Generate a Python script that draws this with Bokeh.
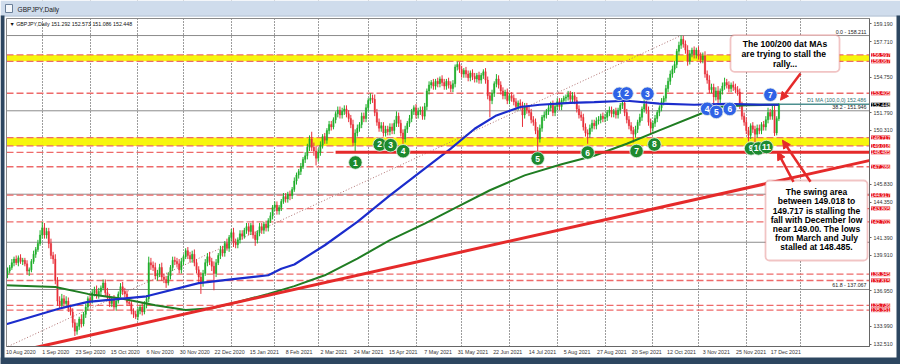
from bokeh.plotting import figure
from bokeh.models import (Range1d, FixedTicker, Label, BoxAnnotation, Arrow,
                          NormalHead, ColumnDataSource, LinearAxis)
from bokeh.core.properties import value
from bokeh.embed import file_html
from bokeh.resources import INLINE

FONT = "Liberation Sans"

# ------------------------------------------------------------------ data
first_open = 138.3
closes = [
    138.6, 138.9, 139.3, 139.6, 139.3, 139.7, 139.4, 139.5, 139.2, 138.6, 138.7, 139.4, 140.0, 140.4, 140.9, 141.6,
    142.2, 141.6, 141.9, 140.9, 139.9, 139.6, 137.8, 136.1, 135.8, 136.3, 135.9, 136.1, 135.5, 135.2, 134.3, 133.6,
    134.0, 134.6, 134.2, 135.0, 135.6, 136.3, 136.1, 136.8, 137.0, 136.6, 136.9, 137.2, 137.6, 136.8, 136.4, 135.9,
    136.2, 135.6, 136.1, 136.7, 137.3, 136.9, 136.7, 136.0, 135.9, 135.3, 135.0, 134.8, 135.3, 135.6, 135.2, 135.8,
    136.3, 139.3, 139.1, 138.9, 138.2, 138.4, 138.9, 138.1, 137.9, 137.6, 138.2, 138.9, 139.5, 139.4, 139.2, 138.7,
    139.4, 139.8, 140.3, 139.9, 139.6, 140.0, 139.3, 138.7, 138.1, 137.6, 138.4, 139.3, 139.8, 139.4, 139.0, 138.4,
    139.3, 139.9, 140.4, 140.1, 140.9, 140.5, 141.4, 141.8, 141.0, 140.8, 141.2, 141.7, 141.5, 142.0, 142.3, 141.9,
    142.4, 141.6, 141.2, 141.8, 142.3, 142.0, 142.5, 142.2, 142.8, 143.2, 143.9, 144.1, 143.6, 143.9, 144.4, 144.8,
    144.6, 145.0, 144.9, 145.4, 146.1, 146.6, 146.9, 147.3, 147.9, 148.2, 148.9, 149.6, 148.9, 148.6, 148.0, 148.5,
    149.1, 149.8, 149.5, 150.3, 150.8, 150.6, 151.2, 151.7, 152.0, 151.6, 151.9, 152.1, 151.7, 151.3, 150.8, 149.3,
    150.1, 150.5, 150.8, 151.5, 151.3, 152.2, 152.8, 153.0, 152.9, 151.8, 151.0, 150.5, 150.7, 150.1, 150.4, 150.2,
    150.6, 150.3, 150.9, 151.5, 150.9, 150.1, 149.6, 150.4, 150.9, 151.3, 151.9, 152.2, 151.6, 151.9, 152.0, 151.5,
    152.3, 153.6, 154.1, 154.3, 154.0, 154.4, 154.2, 154.6, 154.3, 154.0, 154.4, 154.1, 153.8, 154.2, 155.6, 155.8,
    155.4, 155.0, 155.3, 155.0, 154.7, 155.1, 154.8, 154.6, 154.9, 154.5, 154.9, 155.2, 154.5, 153.2, 152.8, 153.4,
    154.2, 154.6, 154.1, 153.6, 153.2, 153.5, 152.8, 153.2, 153.0, 152.7, 152.3, 152.6, 152.4, 151.6, 152.3, 152.0,
    151.8, 151.2, 151.0, 150.3, 149.6, 150.5, 151.4, 151.6, 151.9, 152.2, 152.4, 151.8, 152.3, 152.7, 152.3, 152.8,
    153.0, 153.1, 153.3, 152.9, 153.2, 152.8, 152.1, 151.6, 151.4, 150.6, 150.1, 150.0, 150.5, 150.9, 150.7, 151.1,
    151.2, 151.5, 151.3, 151.4, 151.8, 152.0, 151.7, 151.9, 151.6, 152.0, 152.4, 152.6, 151.8, 151.2, 150.7, 150.3,
    150.0, 150.4, 151.0, 151.4, 152.1, 152.5, 152.0, 151.0, 150.5, 150.9, 151.3, 151.8, 152.2, 152.7, 153.0, 153.8,
    154.4, 155.0, 155.4, 155.8, 156.9, 157.4, 157.9, 157.5, 157.0, 156.1, 156.7, 157.0, 156.6, 157.0, 156.5, 156.2,
    156.5, 155.0, 154.5, 153.7, 153.9, 153.1, 153.6, 152.9, 153.6, 154.0, 154.3, 154.1, 153.8, 154.1, 153.9, 153.7,
    153.5, 152.4, 151.5, 151.0, 150.3, 149.9, 150.7, 150.4, 150.0, 150.5, 150.3, 150.8, 150.6, 151.2, 151.8, 151.5,
    152.0, 150.1, 151.292, 152.448,
]
wick_up = [
    0.3, 0.2, 0.3, 0.2, 0.3, 0.2, 0.3, 0.2, 0.2, 0.3, 0.2, 0.2, 0.3, 0.2, 0.3, 0.4,
    0.5, 0.4, 0.3, 0.3, 0.4, 0.3, 0.4, 0.3, 0.4, 0.4, 0.3, 0.4, 0.3, 0.3, 0.3, 0.3,
    0.3, 0.2, 0.4, 0.2, 0.3, 0.2, 0.4, 0.3, 0.3, 0.4, 0.3, 0.2, 0.3, 0.3, 0.4, 0.3,
    0.3, 0.4, 0.3, 0.2, 0.3, 0.4, 0.3, 0.3, 0.3, 0.3, 0.2, 0.3, 0.3, 0.2, 0.4, 0.3,
    0.3, 0.5, 0.4, 0.3, 0.4, 0.3, 0.3, 0.4, 0.3, 0.3, 0.3, 0.2, 0.3, 0.3, 0.3, 0.4,
    0.3, 0.2, 0.2, 0.3, 0.3, 0.3, 0.4, 0.3, 0.3, 0.4, 0.3, 0.3, 0.3, 0.4, 0.3, 0.4,
    0.3, 0.2, 0.3, 0.3, 0.2, 0.4, 0.2, 0.3, 0.4, 0.3, 0.2, 0.3, 0.3, 0.2, 0.3, 0.3,
    0.2, 0.4, 0.3, 0.2, 0.3, 0.3, 0.2, 0.3, 0.2, 0.3, 0.2, 0.3, 0.3, 0.2, 0.2, 0.3,
    0.3, 0.2, 0.3, 0.2, 0.3, 0.2, 0.2, 0.3, 0.2, 0.3, 0.3, 0.3, 0.6, 0.4, 0.4, 0.3,
    0.3, 0.2, 0.3, 0.2, 0.3, 0.3, 0.2, 0.2, 0.3, 0.3, 0.3, 0.3, 0.3, 0.3, 0.3, 0.4,
    0.3, 0.3, 0.2, 0.3, 0.3, 0.3, 0.2, 0.4, 0.3, 0.4, 0.3, 0.3, 0.3, 0.3, 0.3, 0.3,
    0.3, 0.3, 0.3, 0.4, 0.3, 0.3, 0.3, 0.3, 0.2, 0.3, 0.2, 0.2, 0.3, 0.3, 0.3, 0.3,
    0.3, 0.2, 0.3, 0.2, 0.3, 0.2, 0.3, 0.2, 0.3, 0.3, 0.2, 0.3, 0.3, 0.3, 0.2, 0.25,
    0.2, 0.3, 0.2, 0.3, 0.3, 0.2, 0.3, 0.3, 0.2, 0.3, 0.2, 0.2, 0.3, 0.3, 0.3, 0.3,
    0.2, 0.4, 0.3, 0.3, 0.3, 0.2, 0.3, 0.2, 0.3, 0.3, 0.3, 0.2, 0.3, 0.3, 0.3, 0.3,
    0.3, 0.3, 0.3, 0.3, 0.3, 0.3, 0.2, 0.3, 0.2, 0.3, 0.3, 0.4, 0.2, 0.3, 0.3, 0.2,
    0.2, 0.2, 0.3, 0.3, 0.3, 0.3, 0.3, 0.3, 0.3, 0.3, 0.3, 0.3, 0.3, 0.3, 0.3, 0.3,
    0.3, 0.2, 0.3, 0.3, 0.2, 0.3, 0.3, 0.2, 0.3, 0.2, 0.2, 0.4, 0.3, 0.3, 0.3, 0.3,
    0.3, 0.3, 0.2, 0.3, 0.2, 0.5, 0.3, 0.3, 0.3, 0.2, 0.3, 0.2, 0.2, 0.3, 0.2, 0.3,
    0.3, 0.3, 0.3, 0.3, 0.2, 0.3, 0.311, 0.3, 0.3, 0.4, 0.3, 0.2, 0.3, 0.2, 0.3, 0.3,
    0.3, 0.4, 0.3, 0.4, 0.3, 0.3, 0.3, 0.4, 0.2, 0.3, 0.4, 0.3, 0.3, 0.2, 0.3, 0.3,
    0.3, 0.3, 0.3, 0.3, 0.4, 0.3, 0.2, 0.3, 0.3, 0.3, 0.3, 0.2, 0.3, 0.3, 0.4, 0.3,
    0.5, 0.4, 0.2, 0.125,
]
wick_dn = [
    0.3, 0.2, 0.2, 0.3, 0.2, 0.3, 0.2, 0.3, 0.2, 0.3, 0.4, 0.2, 0.2, 0.3, 0.2, 0.2,
    0.3, 0.3, 0.3, 0.4, 0.3, 0.4, 0.3, 0.4, 0.3, 0.3, 0.4, 0.3, 0.3, 0.3, 0.4, 0.4,
    0.3, 0.3, 0.3, 0.2, 0.3, 0.3, 0.3, 0.2, 0.3, 0.3, 0.3, 0.3, 0.2, 0.3, 0.3, 0.3,
    0.3, 0.3, 0.3, 0.2, 0.3, 0.3, 0.3, 0.3, 0.2, 0.3, 0.3, 0.2, 0.3, 0.3, 0.3, 0.2,
    0.3, 0.3, 0.4, 0.3, 0.3, 0.4, 0.3, 0.3, 0.3, 0.4, 0.2, 0.3, 0.3, 0.3, 0.3, 0.3,
    0.3, 0.3, 0.2, 0.3, 0.3, 0.3, 0.3, 0.3, 0.4, 0.9, 0.3, 0.2, 0.3, 0.3, 0.4, 1.4,
    0.3, 0.2, 0.3, 0.3, 0.3, 0.2, 0.3, 0.3, 0.4, 0.3, 0.3, 0.3, 0.3, 0.2, 0.3, 0.3,
    0.3, 0.3, 0.5, 0.3, 0.3, 0.3, 0.3, 0.3, 0.3, 0.2, 0.3, 0.3, 0.3, 0.3, 0.3, 0.2,
    0.3, 0.3, 0.4, 0.3, 0.2, 0.3, 0.3, 0.3, 0.2, 0.3, 0.3, 0.3, 0.3, 0.4, 0.6, 0.3,
    0.3, 0.3, 0.3, 0.3, 0.3, 0.3, 0.2, 0.3, 0.3, 0.3, 0.3, 0.3, 0.3, 0.3, 0.3, 0.3,
    0.815, 0.3, 0.3, 0.3, 0.3, 0.3, 0.3, 0.3, 0.3, 0.3, 0.3, 0.3, 0.3, 0.3, 0.3, 0.3,
    0.3, 0.3, 0.3, 0.3, 0.3, 0.3, 0.4, 0.3, 0.3, 0.3, 0.3, 0.3, 0.3, 0.3, 0.3, 0.3,
    0.3, 0.3, 0.3, 0.3, 0.3, 0.3, 0.3, 0.3, 0.3, 0.3, 0.3, 0.3, 0.3, 0.3, 0.3, 0.3,
    0.3, 0.3, 0.3, 0.3, 0.3, 0.3, 0.3, 0.3, 0.3, 0.3, 0.3, 0.3, 0.3, 0.3, 1.4, 0.3,
    0.3, 0.3, 0.3, 0.3, 0.3, 0.3, 0.3, 0.3, 0.3, 0.3, 0.3, 0.3, 0.3, 1.0, 0.3, 0.3,
    0.3, 0.3, 0.3, 0.3, 1.115, 0.3, 0.3, 0.3, 0.3, 0.3, 0.3, 0.3, 0.3, 0.3, 0.3, 0.3,
    0.3, 0.3, 0.3, 0.3, 0.3, 0.3, 0.3, 0.3, 0.3, 0.3, 0.3, 0.8, 0.3, 0.3, 0.3, 0.3,
    0.3, 0.3, 0.3, 0.3, 0.3, 0.3, 0.3, 0.3, 0.3, 0.3, 0.3, 0.3, 0.3, 0.3, 0.3, 0.3,
    0.7, 0.3, 0.3, 0.3, 0.3, 0.3, 0.3, 0.3, 0.5, 0.3, 0.3, 0.3, 0.3, 0.3, 0.3, 0.3,
    0.3, 0.3, 0.3, 0.3, 0.3, 0.3, 0.3, 0.3, 0.3, 0.4, 0.3, 0.3, 0.3, 0.3, 0.3, 0.3,
    0.3, 0.3, 0.3, 0.3, 0.3, 0.7, 0.3, 0.4, 0.3, 0.3, 0.3, 0.3, 0.3, 0.3, 0.3, 0.3,
    0.3, 0.3, 0.3, 0.3, 0.3, 0.5, 0.3, 0.3, 0.9, 0.3, 0.3, 0.3, 0.3, 0.3, 0.3, 0.3,
    0.3, 0.25, 0.2, 0.206,
]

date_label_bars = [0, 16, 32, 48, 64, 80, 96, 112, 128, 144, 160, 176, 192, 208,
                   224, 240, 256, 272, 288, 304, 320, 336, 352]
date_labels = ["10 Aug 2020", "1 Sep 2020", "23 Sep 2020", "15 Oct 2020", "6 Nov 2020",
               "30 Nov 2020", "22 Dec 2020", "15 Jan 2021", "8 Feb 2021", "2 Mar 2021",
               "24 Mar 2021", "15 Apr 2021", "7 May 2021", "31 May 2021", "22 Jun 2021",
               "14 Jul 2021", "5 Aug 2021", "27 Aug 2021", "20 Sep 2021", "12 Oct 2021",
               "3 Nov 2021", "25 Nov 2021", "17 Dec 2021"]
month_start_bars = [16, 38, 60, 81, 103, 123, 143, 166, 188, 209, 231, 253, 275, 297,
                    318, 340, 365]

y_tick_values = [159.19, 157.71, 154.75, 151.79, 150.31, 145.83, 144.35, 141.39,
                 139.91, 136.95, 133.99, 132.51]
y_tick_labels = ["159.190", "157.710", "154.750", "151.790", "150.310", "145.830",
                 "144.350", "141.390", "139.910", "136.950", "133.990", "132.510"]

ma100_bars = [-1, 24, 37, 64, 88, 106, 120, 126, 132, 146, 161, 176, 192, 204, 215,
              225, 236, 245, 259, 270, 285, 300, 316, 331, 346, 355]
ma100_vals = [134.15, 135.48, 136.03, 136.5, 137.6, 137.97, 138.25, 138.8, 139.15,
              140.75, 142.69, 144.9, 147.13, 148.8, 150.45, 151.56, 152.26, 152.45,
              152.6, 152.67, 152.78, 152.55, 152.45, 152.52, 152.45, 152.45]
ma200_bars = [-1, 22, 37, 53, 68, 82, 94, 106, 120, 132, 146, 161, 176, 192, 207,
              222, 238, 255, 270, 285, 300, 319, 327, 340, 355]
ma200_vals = [137.42, 137.28, 136.7, 136.3, 135.75, 135.35, 135.5, 136.03, 136.7,
              137.35, 138.25, 139.64, 141.17, 142.55, 143.94, 145.33, 146.57, 147.5,
              148.2, 149.2, 150.32, 151.7, 152.26, 152.4, 152.45]

red_levels = [156.597, 156.067, 153.405, 149.717, 149.018, 148.485, 147.286, 144.917,
              143.805, 142.702, 138.345, 137.815, 135.736, 135.351]
band_bottoms = [156.067, 149.018]
band_tops = [156.597, 149.717]
fib_levels = [158.211, 151.946, 145.0, 141.0, 137.067]
fib_label_levels = [158.211, 151.946, 137.067]
fib_label_texts = ["0.0 - 158.211", "38.2 - 151.946", "61.8 - 137.067"]
ma_level = 152.486
ma_level_text = "D1 MA (100,0,0) 152.486"
ma_level_bars = [326, 397]
support_level = 148.485
support_bars = [151, 397]
trend_bars = [0, 397]
trend_prices = [131.72, 147.82]
retrace_bars = [-1, 310]
retrace_prices = [132.22, 158.211]
last_price = 152.448
ohlc_text = "\u25BC GBPJPY,Daily  151.292 152.573 151.086 152.448"
window_title = "GBPJPY,Daily"

green_circle_bars = [160.1, 171.3, 176.3, 182.1, 244.0, 267.0, 289.5, 297.7, 342.2, 345.6, 349.3]
green_circle_prices = [147.64, 149.14, 149.08, 148.58, 147.97, 148.47, 148.6, 149.14, 148.81, 148.81, 148.93]
green_circle_text = ["1", "2", "3", "4", "5", "6", "7", "8", "9", "10", "11"]
blue_circle_bars = [281.6, 284.9, 294.5, 322.0, 326.2, 332.4, 351.1]
blue_circle_prices = [153.36, 153.39, 153.37, 152.11, 151.85, 152.10, 153.28]
blue_circle_text = ["1", "2", "3", "4", "5", "6", "7"]

note1_lines = ["The 100/200 dat MAs", "are  trying to stall the", "rally..."]
note2_lines = ["The swing area", "between 149.018 to", "149.717 is stalling the",
               "fall with December low", "near 149.00. The lows",
               "from March and July", "stalled at 148.485."]

# ------------------------------------------------------------------ layout
W, H = 900, 364
FL, FR, FT, FB = 6, 869, 18, 346          # chart area in canvas pixels
X0, X1 = -0.46, 396.7                      # chart area in bars
Y0, Y1 = 132.32, 159.63                    # chart area in price


def bx(px):
    return X0 + (px - FL) * (X1 - X0) / (FR - FL)


def py(pyy):
    return Y1 - (pyy - FT) * (Y1 - Y0) / (FB - FT)


UP, DOWN = "#1fae2a", "#e8303a"
RED = "#e52a2a"

opens = [first_open] + closes[:-1]
highs = [max(o, c) + w for o, c, w in zip(opens, closes, wick_up)]
lows = [min(o, c) - w for o, c, w in zip(opens, closes, wick_dn)]
bars = list(range(len(closes)))

p = figure(width=W, height=H, x_range=Range1d(bx(0), bx(W)), y_range=Range1d(py(H), py(0)),
           x_axis_location=None, y_axis_location=None, toolbar_location=None,
           output_backend="svg", min_border=0)
p.background_fill_color = "white"
p.border_fill_color = "white"
p.outline_line_color = None

# grid (vertical dotted month separators)
p.ygrid.grid_line_color = None
p.xgrid.ticker = FixedTicker(ticks=month_start_bars)
p.xgrid.grid_line_color = "#3a3a3a"
p.xgrid.grid_line_dash = "1 2"
p.xgrid.grid_line_alpha = 1.0

# yellow swing bands
p.quad(left=X0, right=X1, bottom=band_bottoms, top=band_tops,
       fill_color="#f5f500", fill_alpha=0.95, line_color=None)
# grey fib levels
p.segment(x0=X0, x1=X1, y0=fib_levels, y1=fib_levels, line_color="#8c8c8c", line_width=1)
# dashed red levels
p.segment(x0=X0, x1=X1, y0=red_levels, y1=red_levels, line_color="#ee6a6a",
          line_width=1.3, line_dash="7 3")
# MA level line
p.line(ma_level_bars, [ma_level, ma_level], line_color="#4d8f8f", line_width=1.6)
# dotted retracement diagonal
p.line(retrace_bars, retrace_prices, line_color="#b07272", line_width=1, line_dash="1 2")

# candles
src = ColumnDataSource(dict(
    x=bars, h=highs, l=lows,
    top=[max(o, c) for o, c in zip(opens, closes)],
    bottom=[min(o, c) for o, c in zip(opens, closes)],
    color=[UP if c >= o else DOWN for o, c in zip(opens, closes)]))
p.segment(x0="x", x1="x", y0="l", y1="h", line_color="color", line_width=1, source=src)
p.vbar(x="x", width=0.62, top="top", bottom="bottom", fill_color="color",
       line_color="color", line_width=0.4, source=src)

# moving averages
p.line(ma200_bars, ma200_vals, line_color="#1f7d22", line_width=2)
p.line(ma100_bars, ma100_vals, line_color="#1b2ccc", line_width=2.2)

# support and trend lines
p.line(support_bars, [support_level, support_level], line_color=RED, line_width=3)
p.line(trend_bars, trend_prices, line_color=RED, line_width=3)

# numbered circles
for bxs, pys, txts, col in ((green_circle_bars, green_circle_prices, green_circle_text, "#1d8a2e"),
                            (blue_circle_bars, blue_circle_prices, blue_circle_text, "#2f62e6")):
    for b, pr, t in zip(bxs, pys, txts):
        p.scatter([b], [pr], marker="circle", size=13.5, fill_color=col,
                  line_color="#e8f0e8", line_width=0.8)
        p.text([b], [pr], text=[t], text_color="white", text_font=value(FONT),
               text_font_style="bold", text_font_size="8.5px",
               text_align="center", text_baseline="middle")

# ---- window surround (masks outside the chart area) ----
p.quad(left=[bx(0), X1, bx(0), bx(0)], right=[X0, bx(W), bx(W), bx(W)],
       bottom=[py(H), py(H), Y1, py(H)], top=[py(0), py(0), py(0), Y0],
       fill_color="white", line_color=None)
p.quad(left=bx(0), right=bx(W), bottom=py(15), top=py(0),
       fill_color="#cfdcec", line_color=None)
p.quad(left=bx(0), right=bx(W), bottom=py(16), top=py(15),
       fill_color="#9fb4cc", line_color=None)
p.quad(left=[bx(0), bx(896), bx(0)], right=[bx(4), bx(W), bx(W)],
       bottom=[py(H), py(H), py(H)], top=[py(15), py(15), py(357)],
       fill_color="#2d4660", line_color=None)
p.quad(left=bx(5), right=bx(12), bottom=py(12), top=py(4),
       fill_color="#f4f7fb", line_color="#6a7f99", line_width=1)
p.quad(left=X0, right=X1, bottom=Y0, top=Y1, fill_alpha=0,
       line_color="#8a8a8a", line_width=1)

# ---- axes, drawn at the chart edges ----
yax = LinearAxis(fixed_location=bx(FR), bounds=(Y0, Y1))
yax.ticker = FixedTicker(ticks=y_tick_values)
yax.major_label_overrides = {v: s for v, s in zip(y_tick_values, y_tick_labels)}
yax.major_label_text_font = FONT
yax.major_label_text_font_size = "5.3px"
yax.major_label_text_color = "#333333"
yax.major_label_standoff = 2
yax.major_tick_in = 0
yax.major_tick_out = 2
yax.minor_tick_line_color = None
yax.minor_tick_in = 0
yax.minor_tick_out = 0
yax.axis_line_color = "#666666"
yax.major_tick_line_color = "#666666"
p.add_layout(yax, "right")

x_tick_pos = [b + 6.2 for b in date_label_bars]
xax = LinearAxis(fixed_location=Y0, bounds=(X0, X1))
xax.ticker = FixedTicker(ticks=x_tick_pos)
xax.major_label_overrides = {v: s for v, s in zip(x_tick_pos, date_labels)}
xax.major_label_text_font = FONT
xax.major_label_text_font_size = "5.3px"
xax.major_label_text_color = "#333333"
xax.major_label_standoff = 2
xax.major_tick_in = 0
xax.major_tick_out = 0
xax.minor_tick_in = 0
xax.minor_tick_out = 0
xax.major_tick_line_color = None
xax.minor_tick_line_color = None
xax.axis_line_color = "#666666"
p.add_layout(xax, "below")

# ---- texts ----
for lvl, txt in zip(fib_label_levels, fib_label_texts):
    p.add_layout(Label(x=bx(866), y=lvl, text=txt, text_font=FONT, text_font_size="5.3px",
                       text_color="#222222", text_align="right", text_baseline="bottom",
                       y_offset=1))
p.add_layout(Label(x=bx(866), y=ma_level, text=ma_level_text, text_font=FONT,
                   text_font_size="5.3px", text_color="#2e6f6f", text_align="right",
                   text_baseline="bottom", y_offset=1))
p.add_layout(Label(x=bx(9), y=py(23.5), text=ohlc_text, text_font=FONT,
                   text_font_size="5.3px", text_color="#111111", text_baseline="middle"))
p.add_layout(Label(x=bx(17), y=py(8.5), text=window_title, text_font=FONT,
                   text_font_size="6.6px", text_color="#1a1a1a", text_baseline="middle"))

# note boxes
p.add_layout(BoxAnnotation(left=bx(730), right=bx(839), top=py(34.7), bottom=py(71.3),
                           fill_color="white", fill_alpha=1, line_color="#d23a3a",
                           line_width=1.8, border_radius=4))
for i, t in enumerate(note1_lines):
    p.add_layout(Label(x=bx(784.5), y=py(43 + 10 * i), text=t, text_font=FONT,
                       text_font_style="bold", text_font_size="8.6px", text_color="black",
                       text_align="center", text_baseline="middle"))
p.add_layout(BoxAnnotation(left=bx(765), right=bx(867), top=py(180), bottom=py(260),
                           fill_color="white", fill_alpha=1, line_color="#d23a3a",
                           line_width=1.8, border_radius=4))
for i, t in enumerate(note2_lines):
    p.add_layout(Label(x=bx(816), y=py(191.7 + 9.2 * i), text=t, text_font=FONT,
                       text_font_style="bold", text_font_size="8.5px", text_color="black",
                       text_align="center", text_baseline="middle"))

# arrows
for (sx, sy, ex, ey) in ((800, 73, 780, 99.7), (810, 181.3, 782, 139.7), (793, 181.3, 777, 151.3)):
    p.add_layout(Arrow(end=NormalHead(size=8, fill_color=RED, line_color=RED),
                       x_start=bx(sx), y_start=py(sy), x_end=bx(ex), y_end=py(ey),
                       line_color=RED, line_width=2.5))

# price labels on the axis
for lvl in red_levels:
    p.add_layout(Label(x=bx(870.5), y=lvl, text=f"{lvl:.3f}", text_font=FONT,
                       text_font_size="5.3px", text_color="white", text_baseline="middle",
                       background_fill_color="#e8141c", background_fill_alpha=1))
p.add_layout(Label(x=bx(870.5), y=last_price, text=f"{last_price:.3f}", text_font=FONT,
                   text_font_size="5.3px", text_color="white", text_baseline="middle",
                   background_fill_color="black", background_fill_alpha=1))

open("out.html", "w").write(file_html(p, INLINE))
